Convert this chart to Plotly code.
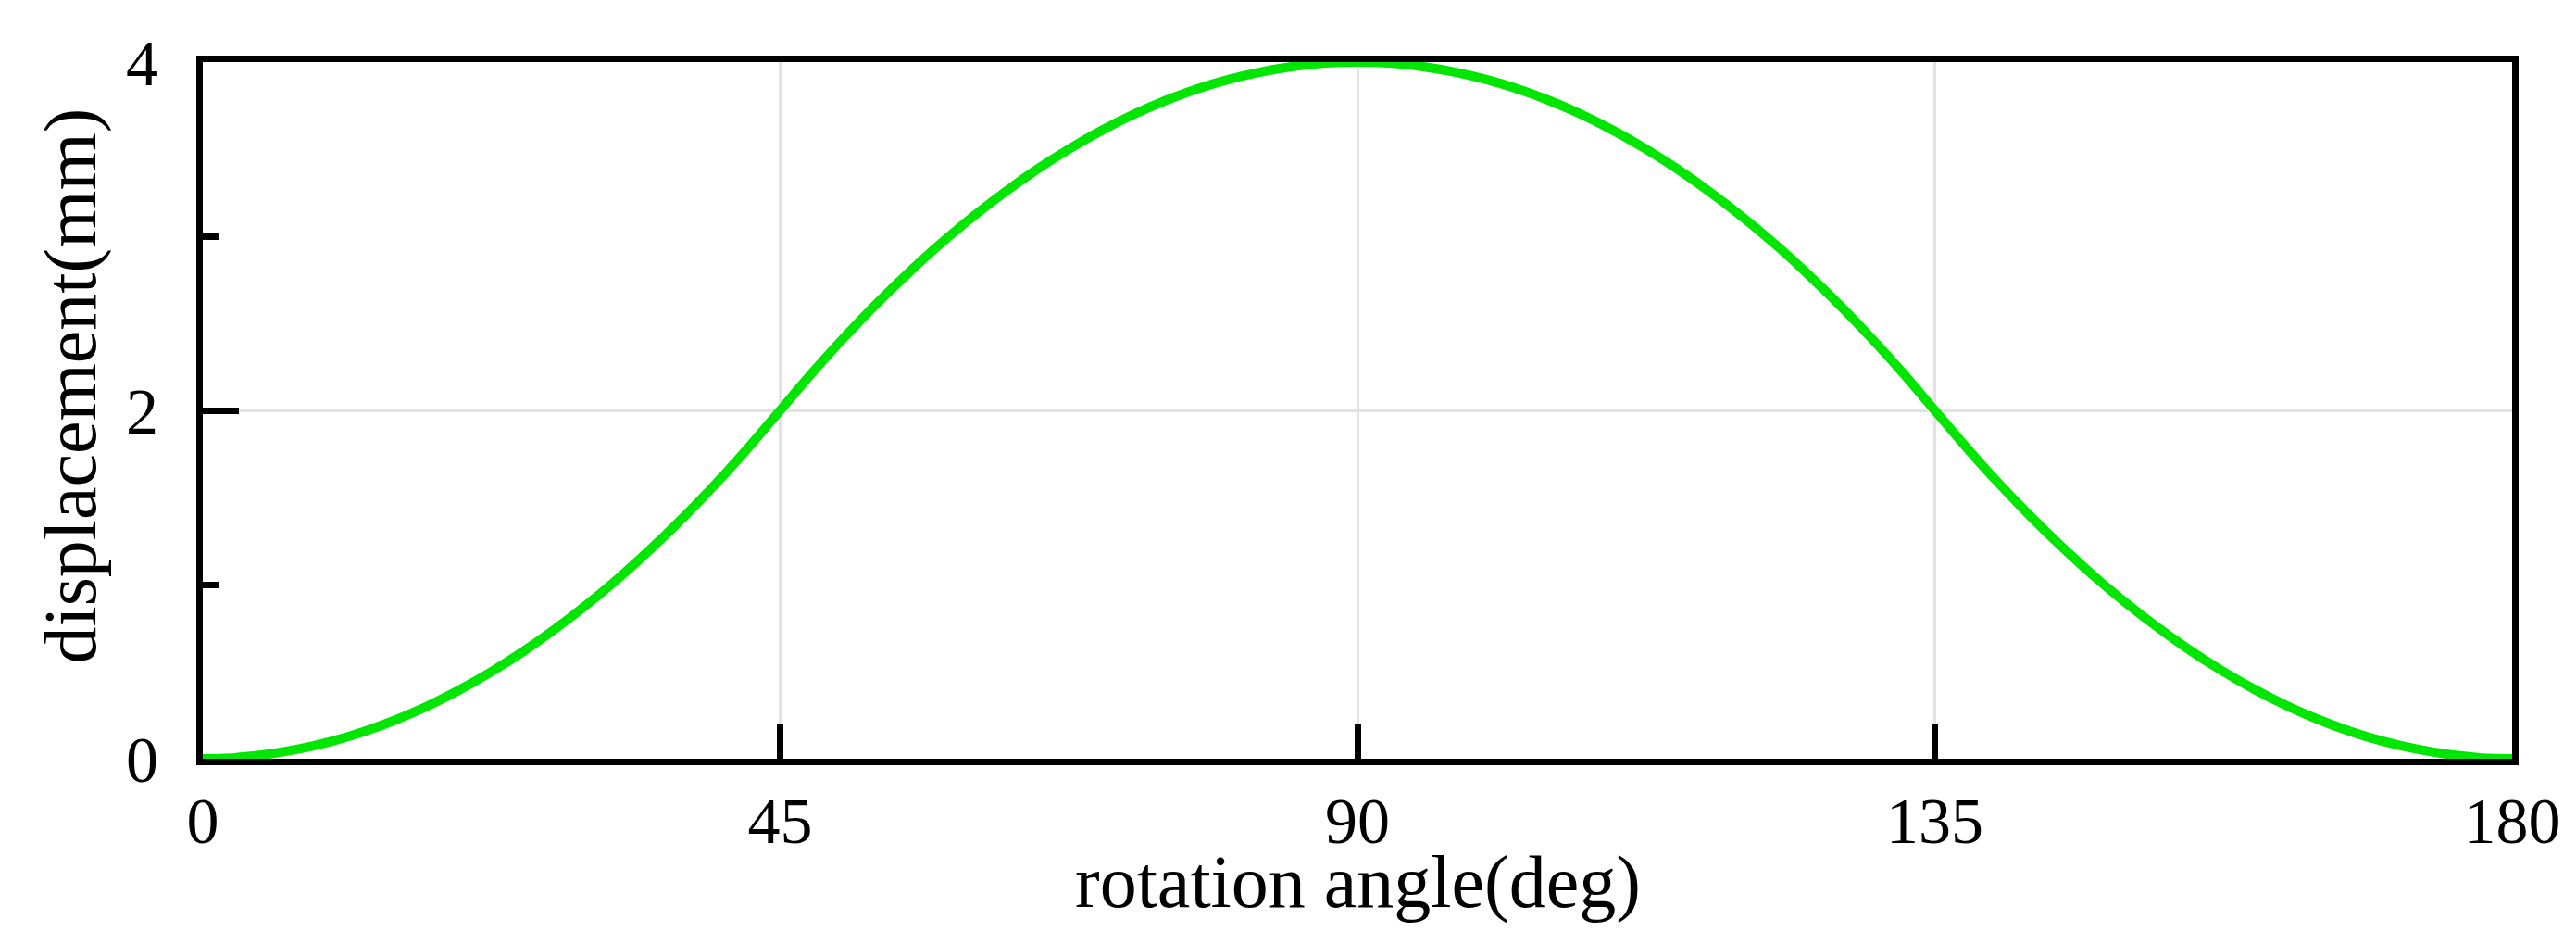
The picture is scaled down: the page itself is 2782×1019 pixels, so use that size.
import plotly.graph_objects as go

# rotation angle (deg) and displacement (mm)
angle = [0, 2.5, 5, 7.5, 10, 12.5, 15, 17.5, 20, 22.5, 25, 27.5, 30, 32.5, 35, 37.5, 40, 42.5,
         45, 47.5, 50, 52.5, 55, 57.5, 60, 62.5, 65, 67.5, 70, 72.5, 75, 77.5, 80, 82.5, 85, 87.5,
         90, 92.5, 95, 97.5, 100, 102.5, 105, 107.5, 110, 112.5, 115, 117.5, 120, 122.5, 125, 127.5,
         130, 132.5, 135, 137.5, 140, 142.5, 145, 147.5, 150, 152.5, 155, 157.5, 160, 162.5, 165,
         167.5, 170, 172.5, 175, 177.5, 180]
displacement = [0.000, 0.006, 0.025, 0.056, 0.099, 0.154, 0.222, 0.302, 0.395, 0.500, 0.617, 0.747,
                0.889, 1.043, 1.210, 1.389, 1.580, 1.784,
                2.000, 2.216, 2.420, 2.611, 2.790, 2.957, 3.111, 3.253, 3.383, 3.500, 3.605, 3.698,
                3.778, 3.846, 3.901, 3.944, 3.975, 3.994,
                4.000, 3.994, 3.975, 3.944, 3.901, 3.846, 3.778, 3.698, 3.605, 3.500, 3.383, 3.253,
                3.111, 2.957, 2.790, 2.611, 2.420, 2.216, 2.000, 1.784, 1.580, 1.389, 1.210, 1.043,
                0.889, 0.747, 0.617, 0.500, 0.395, 0.302, 0.222, 0.154, 0.099, 0.056, 0.025, 0.006,
                0.000]

x_ticks = [0, 45, 90, 135, 180]
y_ticks = [0, 2, 4]
y_minor = [1, 3]
x_title = "rotation angle(deg)"
y_title = "displacement(mm)"

FONT = "Liberation Serif, Times New Roman, serif"

fig = go.Figure()
fig.add_trace(go.Scatter(
    x=angle, y=displacement, mode="lines",
    line=dict(color="rgb(0,230,0)", width=10, shape="spline", smoothing=0.8),
    showlegend=False, cliponaxis=True,
))

fig.update_layout(
    width=2782, height=1019,
    margin=dict(l=211, r=77, t=59, b=208),
    paper_bgcolor="white", plot_bgcolor="white",
    font=dict(family=FONT, color="black", size=70),
    xaxis=dict(
        range=[0, 180], tickvals=x_ticks, ticktext=[str(v) for v in x_ticks],
        ticks="inside", ticklen=37, tickwidth=7, tickcolor="black",
        showline=True, linewidth=7, linecolor="black", mirror=True,
        showgrid=True, gridcolor="#e3e3e3", gridwidth=3, zeroline=False,
        tickfont=dict(family=FONT, size=70, color="black"),
        ticklabelstandoff=0,
        layer="below traces",
    ),
    yaxis=dict(
        range=[0, 4], tickvals=y_ticks, ticktext=[str(v) for v in y_ticks],
        ticks="inside", ticklen=39, tickwidth=7, tickcolor="black",
        minor=dict(tickvals=y_minor, ticks="inside", ticklen=18, tickwidth=7, tickcolor="black", showgrid=False),
        showline=True, linewidth=7, linecolor="black", mirror=True,
        showgrid=True, gridcolor="#e3e3e3", gridwidth=3, zeroline=False,
        tickfont=dict(family=FONT, size=70, color="black"),
        ticklabelstandoff=27,
        layer="below traces",
    ),
    annotations=[
        dict(text=x_title, xref="paper", yref="paper", x=0.5, y=-0.178,
             xanchor="center", yanchor="middle", showarrow=False,
             font=dict(family=FONT, size=80, color="black")),
        dict(text=y_title, xref="paper", yref="paper", x=-0.057, y=0.535,
             xanchor="center", yanchor="middle", showarrow=False, textangle=-90,
             font=dict(family=FONT, size=80, color="black")),
    ],
)

fig.write_html("out.html")
